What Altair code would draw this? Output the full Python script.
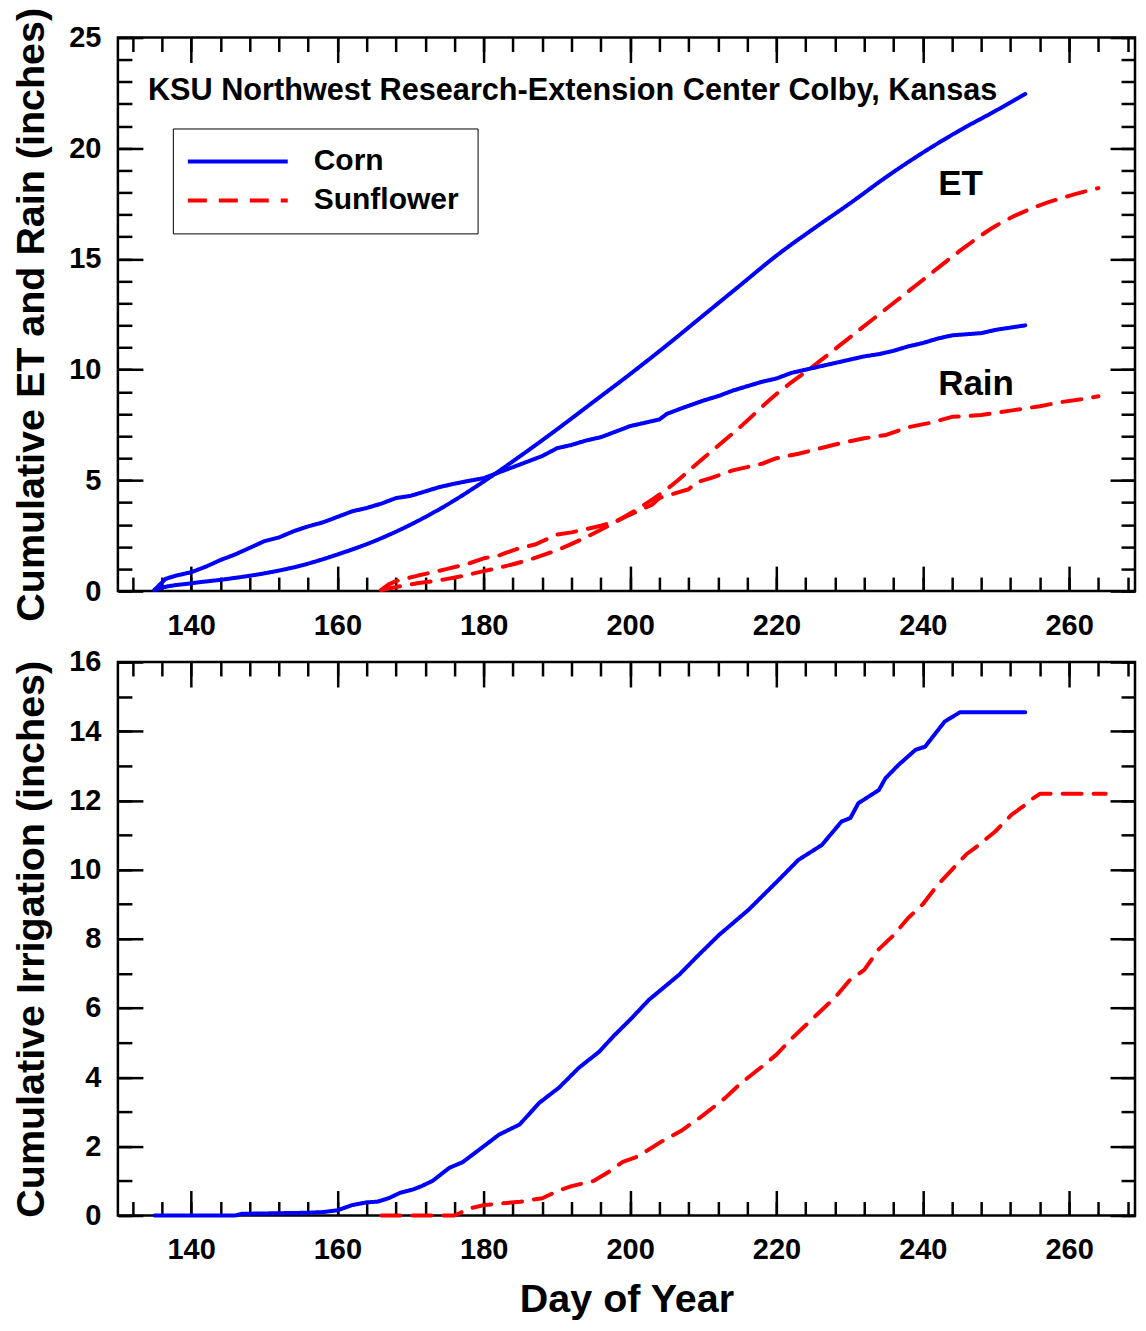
import altair as alt
import pandas as pd

# ---------------- data ----------------
corn_et_day = [135, 136, 140, 145, 150, 155, 160, 165, 170, 175, 180, 185, 190, 195,
               200, 205, 210, 215, 220, 225, 230, 235, 240, 245, 250, 254]
corn_et = [0.05, 0.15, 0.35, 0.55, 0.8, 1.15, 1.65, 2.25, 3.0, 3.9, 4.95, 6.1, 7.3, 8.55,
           9.8, 11.1, 12.45, 13.8, 15.15, 16.35, 17.5, 18.7, 19.8, 20.8, 21.7, 22.45]

corn_rain_day = [135, 136.5, 138, 140, 142, 144, 146, 148, 150, 152, 154, 156, 158, 160,
                 162, 164, 166, 168, 170, 172, 174, 176, 178, 180, 182, 184, 186, 188,
                 190, 192, 194, 196, 198, 200, 202, 204, 205, 207, 210, 212, 214, 216,
                 218, 220, 222, 224, 226, 228, 230, 232, 234, 236, 238, 240, 242, 244,
                 246, 248, 250, 252, 254]
corn_rain = [0.05, 0.55, 0.7, 0.85, 1.1, 1.4, 1.65, 1.95, 2.25, 2.42, 2.7, 2.92, 3.1, 3.35,
             3.6, 3.75, 3.95, 4.2, 4.3, 4.5, 4.7, 4.85, 4.98, 5.1, 5.35, 5.6, 5.85, 6.1,
             6.45, 6.6, 6.8, 6.95, 7.2, 7.45, 7.6, 7.75, 8.0, 8.25, 8.6, 8.8, 9.05, 9.25,
             9.45, 9.6, 9.85, 10.0, 10.15, 10.3, 10.45, 10.6, 10.7, 10.85, 11.05, 11.2, 11.4, 11.55,
             11.6, 11.65, 11.8, 11.9, 12.0]

sun_et_day = [166, 168, 170, 175, 180, 185, 190, 195, 200, 205, 210, 215, 220, 225,
              230, 235, 240, 245, 250, 255, 260, 264]
sun_et = [0.05, 0.18, 0.3, 0.55, 0.9, 1.3, 1.85, 2.6, 3.5, 4.6, 6.0, 7.4, 8.9, 10.15,
          11.45, 12.75, 14.05, 15.35, 16.5, 17.3, 17.85, 18.2]

sun_rain_day = [166, 167, 168, 171, 173, 175, 178, 180, 182, 183, 185, 187, 188, 190,
                192, 194, 196, 198, 200, 202, 203, 204, 206, 208, 209, 211, 214, 216,
                218, 220, 223, 226, 229, 232, 235, 238, 241, 244, 246, 248, 250, 252,
                254, 256, 259, 262, 264]
sun_rain = [0.05, 0.3, 0.45, 0.7, 0.85, 1.0, 1.25, 1.48, 1.6, 1.72, 1.95, 2.1, 2.25, 2.55,
            2.65, 2.8, 2.95, 3.15, 3.45, 3.75, 3.9, 4.2, 4.4, 4.6, 4.9, 5.1, 5.45, 5.6,
            5.75, 6.0, 6.2, 6.45, 6.7, 6.9, 7.05, 7.4, 7.6, 7.87, 7.9, 7.95, 8.05, 8.15,
            8.25, 8.35, 8.54, 8.68, 8.8]

corn_irr_day = [135, 146, 147, 156, 158, 160, 162, 164, 165.5, 167, 168.5, 170.3, 171.5,
                173, 175.3, 177.1, 180.3, 182.1, 184.9, 187.6, 190.3, 193, 195.8, 197.8,
                200, 202.6, 206.7, 209.4, 212.1, 216.2, 220.3, 223, 226.2, 228.9, 230.1,
                231.2, 234, 234.9, 236.7, 239, 240.3, 243, 245.1, 254]
corn_irr = [0, 0, 0.05, 0.08, 0.1, 0.15, 0.3, 0.38, 0.4, 0.5, 0.65, 0.75, 0.85,
            1.0, 1.38, 1.54, 2.05, 2.34, 2.63, 3.26, 3.7, 4.27, 4.74, 5.2,
            5.66, 6.24, 6.96, 7.54, 8.1, 8.84, 9.7, 10.28, 10.71, 11.39, 11.49,
            11.92, 12.3, 12.64, 13.03, 13.46, 13.55, 14.28, 14.55, 14.55]

sun_irr_day = [166, 176, 178, 180, 185, 188, 190, 192, 195, 197, 199, 201, 204, 207, 210,
               213, 215, 218, 220, 222, 225, 228, 230, 232, 234, 236, 238, 240, 242, 244,
               246, 247.1, 249.9, 252.1, 254, 255, 256, 265]
sun_irr = [0, 0, 0.2, 0.3, 0.4, 0.5, 0.7, 0.85, 1.0, 1.25, 1.55, 1.7, 2.1, 2.45, 2.9,
           3.4, 3.8, 4.3, 4.65, 5.1, 5.7, 6.3, 6.8, 7.1, 7.7, 8.1, 8.6, 9.0, 9.55, 10.0,
           10.45, 10.62, 11.1, 11.58, 11.87, 12.05, 12.19, 12.19]

crops = ["Corn", "Sunflower"]
x_major = [140, 160, 180, 200, 220, 240, 260]
x_minor = list(range(132, 269, 4))
top_major = [0, 5, 10, 15, 20, 25]
top_minor = list(range(0, 26))
bot_major = [0, 2, 4, 6, 8, 10, 12, 14, 16]
bot_minor = list(range(0, 17))

title_text = ["KSU Northwest Research-Extension Center Colby, Kansas"]
title_pos = [(134.1, 22.6)]
label_text = ["ET", "Rain"]
label_pos = [(242.1, 18.37), (242.1, 9.34)]


def frame(days, vals, crop, series):
    return pd.DataFrame({"day": days, "value": vals, "crop": crop, "series": series})


et_df = pd.concat([frame(corn_et_day, corn_et, "Corn", "Corn ET"),
                   frame(sun_et_day, sun_et, "Sunflower", "Sunflower ET")])
rain_df = pd.concat([frame(corn_rain_day, corn_rain, "Corn", "Corn Rain"),
                     frame(sun_rain_day, sun_rain, "Sunflower", "Sunflower Rain")])
irr_df = pd.concat([frame(corn_irr_day, corn_irr, "Corn", "Corn Irr"),
                    frame(sun_irr_day, sun_irr, "Sunflower", "Sunflower Irr")])
title_df = pd.DataFrame({"x": [p[0] for p in title_pos], "y": [p[1] for p in title_pos],
                         "label": title_text})
label_df = pd.DataFrame({"x": [p[0] for p in label_pos], "y": [p[1] for p in label_pos],
                         "label": label_text})

# ---------------- styling ----------------
FONT = "Liberation Sans"
W, H = 1018, 554
LW = 4
xs = alt.Scale(domain=[130, 269], nice=False, zero=False)
color_scale = alt.Scale(domain=crops, range=["#0000ff", "#ff0000"])
dash_scale = alt.Scale(domain=crops, range=[[1, 0], [19, 12]])


def tick_axis(orient, values, size, offset):
    return alt.Axis(orient=orient, values=values, tickSize=size, offset=offset,
                    labels=False, domain=False, grid=False, ticks=True,
                    tickColor="black", tickWidth=2.5, title=None)


def panel(line_parts, ydom, ymajor, yminor, ytitle, xtitle, show_legend, extra_layers):
    ys = alt.Scale(domain=ydom, nice=False, zero=False)
    if show_legend:
        leg = alt.Legend(title=None, orient="none", legendX=55, legendY=91,
                         symbolType="M-5,0H5", symbolSize=400, symbolOffset=32,
                         symbolStrokeWidth=LW, symbolFillColor="transparent",
                         labelFont=FONT, labelFontSize=30, labelFontWeight="bold",
                         labelColor="black", labelOffset=61, padding=18, rowPadding=9,
                         strokeColor="black", fillColor="white")
    else:
        leg = None
    xlab = dict(orient="bottom", values=x_major, ticks=False, tickSize=0,
                labelPadding=20, domain=False, grid=False)
    if xtitle:
        xlab["title"] = xtitle
        xlab["titlePadding"] = 16
    else:
        xlab["title"] = None
    x_label_axis = alt.Axis(**xlab)
    y_label_axis = alt.Axis(orient="left", values=ymajor, ticks=False, tickSize=0,
                            labelPadding=17, domain=False, grid=False, title=ytitle,
                            titleX=-74, titleY=H / 2, titleBaseline="alphabetic",
                            titleAngle=270)

    layers = []
    first = True
    for df, interp in line_parts:
        if leg is not None:
            col = alt.Color("crop:N", scale=color_scale, legend=leg)
            dash = alt.StrokeDash("crop:N", scale=dash_scale, legend=leg)
        else:
            col = alt.Color("crop:N", scale=color_scale, legend=None)
            dash = alt.StrokeDash("crop:N", scale=dash_scale, legend=None)
        enc = dict(
            x=alt.X("day:Q", scale=xs, axis=x_label_axis if first else None),
            y=alt.Y("value:Q", scale=ys, axis=y_label_axis if first else None),
            color=col,
            strokeDash=dash,
            detail="series:N",
            order="day:Q",
        )
        layers.append(alt.Chart(df).mark_line(strokeWidth=LW, strokeCap="round",
                                              strokeJoin="round", interpolate=interp).encode(**enc))
        first = False

    base_df = line_parts[0][0]
    # inward ticks on all four sides (major and minor)
    tick_specs = [
        (tick_axis("top", x_major, 25, -H), tick_axis("right", ymajor, 25, -W)),
        (tick_axis("top", x_minor, 14, -H), tick_axis("right", yminor, 14, -W)),
        (tick_axis("bottom", x_major, 25, -H), tick_axis("left", ymajor, 25, -W)),
        (tick_axis("bottom", x_minor, 14, -H), tick_axis("left", yminor, 14, -W)),
    ]
    for ax_x, ax_y in tick_specs:
        layers.append(alt.Chart(base_df).mark_point(opacity=0).encode(
            x=alt.X("day:Q", scale=xs, axis=ax_x),
            y=alt.Y("value:Q", scale=ys, axis=ax_y)))

    for df, size in extra_layers:
        layers.append(alt.Chart(df).mark_text(align="left", baseline="middle", font=FONT,
                                              fontSize=size, fontWeight="bold",
                                              color="black").encode(
            x=alt.X("x:Q", scale=xs, axis=None),
            y=alt.Y("y:Q", scale=ys, axis=None),
            text="label:N"))

    return alt.layer(*layers).resolve_axis(x="independent", y="independent").properties(
        width=W, height=H)


top = panel([(et_df, "monotone"), (rain_df, "linear")], [0, 25], top_major, top_minor,
            "Cumulative ET and Rain (inches)", None, True,
            [(title_df, 30.7), (label_df, 35)])
bottom = panel([(irr_df, "linear")], [0, 16], bot_major, bot_minor,
               "Cumulative Irrigation (inches)", "Day of Year", False, [])

chart = alt.vconcat(top, bottom, spacing=71, bounds="flush").resolve_scale(
    color="independent", strokeDash="independent").resolve_legend(
    color="independent", strokeDash="independent").configure_view(
    stroke="black", strokeWidth=2.5).configure_axis(
    labelFont=FONT, labelFontSize=29, labelFontWeight="bold", labelColor="black",
    titleFont=FONT, titleFontSize=39.5, titleFontWeight="bold", titleColor="black"
).properties(padding={"left": 2, "top": -3, "right": 0, "bottom": 0}, background="white")

chart.save("out.html", embed_options={"renderer": "svg", "actions": False})
